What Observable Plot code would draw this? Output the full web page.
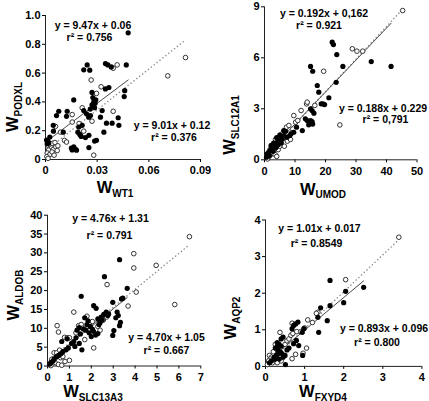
<!DOCTYPE html>
<html><head><meta charset="utf-8">
<script src="https://cdn.jsdelivr.net/npm/d3@7"></script>
<script src="https://cdn.jsdelivr.net/npm/@observablehq/plot@0.6"></script>
<style>
body{margin:0;background:#fff;}
#wrap{position:relative;width:429px;height:401px;overflow:hidden;background:#fff;}
.panel{position:absolute;}
</style></head><body><div id="wrap"></div>
<script>
// ---------- DATA ----------
// Panel A: W_PODXL vs W_WT1
const podxlFilled = [[0.048,0.88],[0.0222,0.623],[0.0242,0.657],[0.0257,0.62],[0.0348,0.666],[0.0362,0.657],[0.0382,0.643],[0.0469,0.657],
[0.0164,0.414],[0.0064,0.305],[0.0077,0.335],[0.0126,0.335],[0.0122,0.30],[0.0045,0.237],[0.0103,0.19],[0.0046,0.197],
[0.0014,0.128],[0.0019,0.114],[0.001,0.11],[0.0025,0.156],[0.0006,0.135],
[0.027,0.466],[0.0275,0.43],[0.028,0.40],[0.027,0.38],[0.0285,0.36],[0.026,0.35],[0.0292,0.415],[0.0288,0.39],
[0.0222,0.34],[0.0238,0.317],[0.0251,0.294],[0.0261,0.305],
[0.0348,0.49],[0.0368,0.5],[0.046,0.478],[0.0457,0.437],
[0.0329,0.34],[0.0319,0.294],[0.0422,0.29],[0.0426,0.237],[0.0387,0.252],[0.0354,0.252],[0.0339,0.19],
[0.0213,0.237],[0.0188,0.19],[0.0199,0.174],[0.0193,0.225],
[0.0252,0.168],[0.0232,0.152],[0.0207,0.16],[0.0296,0.133],[0.0285,0.128],[0.0252,0.083],
[0.015,0.08],[0.0164,0.088],[0.0173,0.072],[0.018,0.065],[0.0155,0.066]];
const podxlOpen = [[0.0813,0.708],[0.071,0.581],[0.0416,0.657],[0.0393,0.634],[0.0265,0.552],[0.0323,0.505],[0.0296,0.459],[0.0213,0.359],[0.0155,0.312],[0.0155,0.26],[0.027,0.266],[0.0393,0.335],[0.0058,0.23],[0.0087,0.19],[0.011,0.133],[0.0122,0.121],[0.0222,0.197],[0.028,0.03],[0.0195,0.25],
[0.0012,0.1],[0.0025,0.105],[0.004,0.112],[0.0055,0.118],[0.0035,0.08],[0.0018,0.065],[0.0045,0.07],[0.006,0.088],[0.001,0.045],[0.0025,0.035],[0.0038,0.052],[0.0072,0.095],[0.0068,0.062],[0.0008,0.02],[0.0015,0.008],[0.005,0.03]];

// Panel B: W_SLC12A1 vs W_UMOD
const slc12Filled = [[22.2,6.92],[22.6,6.78],[23.7,6.19],[25.7,5.49],[35,5.78],[41.5,5.49],[23.5,4.56],
[15.1,5.49],[15.8,5.21],[17.3,4.37],[17.8,3.98],[21.1,3.65],[18.6,3.29],[19.2,3.29],[19.7,3.25],
[15.1,3.0],[15.6,2.9],[16.2,2.74],[13.4,2.41],[14,2.31],[15.1,2.31],[15.6,2.25],[14.5,2.06],[15.8,2.1],
[12.4,1.72],[10.5,1.92],[9.6,1.62],[8.7,1.53],[8.3,1.43],[7.4,1.33],[6.3,1.43],[5.8,1.23],[5.2,1.14],[4.7,1.18],[4.2,1.04],[3.6,0.94],[3.3,0.84],[2.5,0.7],[2.0,0.59],[1.4,0.45],[0.9,0.35],[0.66,0.15],
[6.3,1.72],[6.9,1.68],[3.8,0.72],[4.5,0.88],[5.5,1.0],[2.8,0.5],[3.0,0.98],[4.0,1.3],[5.0,1.45],[2.2,0.85],[1.6,0.25]];
const slc12Open = [[45.3,8.78],[28.8,6.53],[30.3,6.39],[32.2,6.39],[19.4,5.21],[24.7,2.05],[9.6,2.6],[12,2.9],[13.8,3.29],[14,3.39],[10.2,2.21],[10.9,2.31],[7.2,1.92],[8,2.02],[16.5,3.2],
[1.0,0.05],[1.5,0.2],[2.0,0.3],[2.5,0.4],[1.8,0.6],[2.2,0.8],[3.0,0.5],[3.5,0.3],[4.0,0.2],[4.5,0.6],[3.2,0.7],[2.8,0.9],[1.2,0.4],[5.0,0.8],[6.5,0.8],[7.5,1.1],[4.0,1.0],[5.5,1.5],[3.6,1.2],[8.5,1.2],[6.0,1.25],[9.0,1.6]];

// Panel C: W_ALDOB vs W_SLC13A3
const aldobFilled = [[3.29,28.2],[2.6,23.7],[1.54,18.5],[3.64,20.6],[3.38,17.8],[3.44,18.0],[2.98,16.9],[2.11,16],[2.22,15.3],[2.68,14.3],[2.79,13.8],[2.75,13.4],[2.57,13.7],[3.18,14.3],[3.23,13.4],[3.12,12.8],[3.33,11.6],[3.29,10.7],[3.03,9.4],[2.98,8.1],
[2.3,12.5],[2.4,11.5],[2.45,13],[2.35,11],[2.5,12.2],
[1.7,12.8],[1.85,12],[1.8,11],[1.95,10.5],[2.05,9.8],[2.1,9.2],[1.9,8.8],[1.75,9.5],[1.65,9.8],[2.0,7.8],[2.2,8.2],[2.3,8.6],
[1.45,10.2],[1.35,9.5],[1.5,8.5],[1.3,7.5],[1.2,6.5],[1.1,6.0],[1.25,5.2],[1.45,6.0],[0.95,4.8],[0.85,4.3],[0.7,3.8],[0.6,3.2],[0.5,2.8],[0.4,2.4],[0.3,1.8],[0.25,1.3],[0.15,0.9],[0.1,0.5],[1.57,4.3],[0.9,7.2],[0.65,6.5]];
const aldobOpen = [[6.48,34.3],[3.94,29.8],[3.94,26.0],[4.96,26.7],[4.05,19.6],[3.68,15.9],[5.81,16.3],[2.72,21.6],[1.2,14.3],[0.44,10.7],[0.5,9.0],[0.78,7.6],[0.9,7.5],[1.0,7.5],[1.42,10.7],[1.54,11],[2.11,4.8],[1.0,1.5],
[1.8,13.2],[2.3,10.5],[2.55,12.2],[1.6,10.0],[2.05,11.8],[1.3,8.8],[1.7,7.0],[2.7,13.0],[2.4,9.5],
[0.3,3.5],[0.42,3.5],[0.55,4.2],[0.6,2.2],[0.2,1.8],[0.35,0.9],[0.5,0.4],[0.65,0.2],[0.8,1.2],[0.7,2.5],[0.1,0.3],[0.15,0.1]];

// Panel D: W_AQP2 vs W_FXYD4
const aqp2Filled = [[1.65,2.35],[2.05,2.05],[2.51,2.16],[2.0,1.74],[1.65,1.66],[1.41,1.6],[1.58,1.25],[1.34,1.34],[1.36,0.93],[0.83,1.21],[0.77,1.16],[0.72,1.12],[0.68,1.03],[0.98,1.03],[0.94,0.93],[0.79,0.71],[0.85,0.57],[0.72,0.62],[0.51,0.05],
[0.45,0.8],[0.4,0.75],[0.35,0.6],[0.3,0.55],[0.25,0.5],[0.32,0.45],[0.38,0.4],[0.42,0.35],[0.28,0.3],[0.22,0.25],[0.35,0.2],[0.45,0.25],[0.5,0.3],[0.55,0.45],[0.6,0.5],[0.15,0.15],[0.1,0.1],[0.3,0.65],[0.4,0.55],[0.33,0.35],[0.25,0.2],[0.95,0.3]];
const aqp2Open = [[3.41,3.53],[2.05,2.37],[1.34,1.48],[1.3,1.45],[0.68,1.18],[0.37,0.93],[1.08,1.27],[1.05,0.5],[0.96,0.36],[0.68,0.21],[0.77,0.33],
[0.1,0.3],[0.15,0.25],[0.2,0.4],[0.25,0.6],[0.18,0.1],[0.05,0.05],[0.3,0.2],[0.4,0.15],[0.5,0.6],[0.55,0.7],[0.6,0.75],[0.65,0.85],[0.7,0.9],[0.12,0.2],[0.08,0.15],[0.3,0.1],[0.8,0.95],[0.9,0.95],[1.0,1.05],[1.2,1.2]];

// regression coefficients [slope, intercept] (open = dotted, filled = solid)
const fitOpen   = {A:[9.47,0.06], B:[0.192,0.162], C:[4.76,1.31], D:[1.01,0.017]};
const fitFilled = {A:[9.01,0.12], B:[0.188,0.229], C:[4.70,1.05], D:[0.893,0.096]};

// equation labels
const eqOpen   = {A:["y = 9.47x + 0.06","r² = 0.756"], B:["y = 0.192x + 0,162","r² = 0.921"], C:["y = 4.76x + 1.31","r² = 0.791"], D:["y = 1.01x + 0.017","r² = 0.8549"]};
const eqFilled = {A:["y = 9.01x + 0.12","r² = 0.376"], B:["y = 0.188x + 0.229","r² = 0,791"], C:["y = 4.70x + 1.05","r² = 0.667"], D:["y = 0.893x + 0.096","r² = 0.800"]};

// axis titles [main, subscript]
const xTitles = {A:["W","WT1"], B:["W","UMOD"], C:["W","SLC13A3"], D:["W","FXYD4"]};
const yTitles = {A:["W","PODXL"], B:["W","SLC12A1"], C:["W","ALDOB"], D:["W","AQP2"]};

// ticks
const xTicks = {A:[0,0.03,0.06,0.09], B:[0,10,20,30,40,50], C:[0,1,2,3,4,5,6,7], D:[0,1,2,3,4]};
const yTicks = {A:[0,0.2,0.4,0.6,0.8,1.0], B:[0,3,6,9], C:[0,5,10,15,20,25,30,35,40], D:[0,1,2,3,4]};
const xFmt = {A:d=>d===0?"0":d.toFixed(2), B:d=>String(d), C:d=>String(d), D:d=>String(d)};
const yFmt = {A:d=>d===0?"0":d.toFixed(1), B:d=>String(d), C:d=>String(d), D:d=>String(d)};

// ---------- DRAW ----------
const FONT = "'Liberation Sans', Arial, sans-serif";
const wrap = document.getElementById("wrap");

function fitLine(pts, [a,b]) {
  const [x0,x1] = d3.extent(pts, d=>d[0]);
  return [{x:x0, y:a*x0+b}, {x:x1, y:a*x1+b}];
}

function panel(key, filled, open, L) {
  const m = L.m;
  const eq = (txt, cx, bl) => Plot.text([txt], {
    frameAnchor:"top-left", dx: cx - m[3], dy: bl - 3.4 - m[0],
    text: d=>d, textAnchor:"middle", lineAnchor:"middle",
    fontSize:10.5, fontWeight:"bold", fill:"#000", fontFamily: FONT
  });
  const svg = Plot.plot({
    width: L.w, height: L.h,
    marginTop: m[0], marginRight: m[1], marginBottom: m[2], marginLeft: m[3],
    style: {fontFamily: FONT, fontSize:"11px", fontWeight:"bold", color:"#000", background:"#fff"},
    x: {domain: L.xd, ticks: xTicks[key], tickFormat: xFmt[key], tickSize:3, tickPadding:4, label:null},
    y: {domain: L.yd, ticks: yTicks[key], tickFormat: yFmt[key], tickSize:3, tickPadding:2, label:null},
    marks: [
      Plot.ruleX([L.xd[0]], {stroke:"#222", strokeWidth:1}),
      Plot.ruleY([L.yd[0]], {stroke:"#222", strokeWidth:1}),
      Plot.line(fitLine(open, fitOpen[key]), {x:"x", y:"y", stroke:"#8c8c8c", strokeWidth:1.5, strokeDasharray:"0.1,3.6", strokeLinecap:"round"}),
      Plot.line(fitLine(filled, fitFilled[key]), {x:"x", y:"y", stroke:"#4a4a4a", strokeWidth:1}),
      Plot.dot(open, {x:d=>d[0], y:d=>d[1], r:2.3, fill:"#fff", stroke:"#333", strokeWidth:1}),
      Plot.dot(filled, {x:d=>d[0], y:d=>d[1], r:2.6, fill:"#000", stroke:"none"}),
      eq(eqOpen[key][0], ...L.e1), eq(eqOpen[key][1], ...L.r1),
      eq(eqFilled[key][0], ...L.e2), eq(eqFilled[key][1], ...L.r2)
    ]
  });
  const s = d3.select(svg);
  const xt = s.append("text").attr("x", L.xt[0]).attr("y", L.xt[1])
    .attr("font-family", FONT).attr("font-weight","bold").attr("fill","#000");
  xt.append("tspan").attr("font-size",16.5).text(xTitles[key][0]);
  xt.append("tspan").attr("font-size",10).attr("dy",3.5).text(xTitles[key][1]);
  const yt = s.append("text").attr("transform", `translate(${L.yt[0]},${L.yt[1]}) rotate(-90)`)
    .attr("font-family", FONT).attr("font-weight","bold").attr("fill","#000");
  yt.append("tspan").attr("font-size",16.5).text(yTitles[key][0]);
  yt.append("tspan").attr("font-size",10).attr("dy",3.5).text(yTitles[key][1]);
  const div = document.createElement("div");
  div.className = "panel";
  div.style.left = L.left + "px"; div.style.top = L.top + "px";
  div.appendChild(svg);
  wrap.appendChild(div);
}

panel("A", podxlFilled, podxlOpen, {left:0, top:0, w:214, h:200, m:[15,14,41,45],
  xd:[0,0.09], yd:[0,1],
  e1:[92.5,29], r1:[89,40.5], e2:[171.5,129], r2:[173.5,140.5],
  xt:[115,193], yt:[18,107]});
panel("B", slc12Filled, slc12Open, {left:215, top:0, w:214, h:200, m:[6.3,12.5,40.7,49],
  xd:[0,50], yd:[0,9],
  e1:[108.5,17], r1:[103.5,29], e2:[167.5,112], r2:[170,123],
  xt:[108,194.5], yt:[20,125]});
panel("C", aldobFilled, aldobOpen, {left:0, top:200, w:214, h:201, m:[14.7,13.7,35.5,47],
  xd:[0,7], yd:[0,40],
  e1:[110,22], r1:[109,39], e2:[166,140.5], r2:[166,154],
  xt:[93,197], yt:[19,95]});
panel("D", aqp2Filled, aqp2Open, {left:215, top:200, w:214, h:201, m:[19.5,7.6,35.1,50],
  xd:[0,4], yd:[0,4],
  e1:[104,32], r1:[101,47], e2:[168.5,132], r2:[161.5,145.5],
  xt:[108,197], yt:[21,118]});
</script>
</body></html>
